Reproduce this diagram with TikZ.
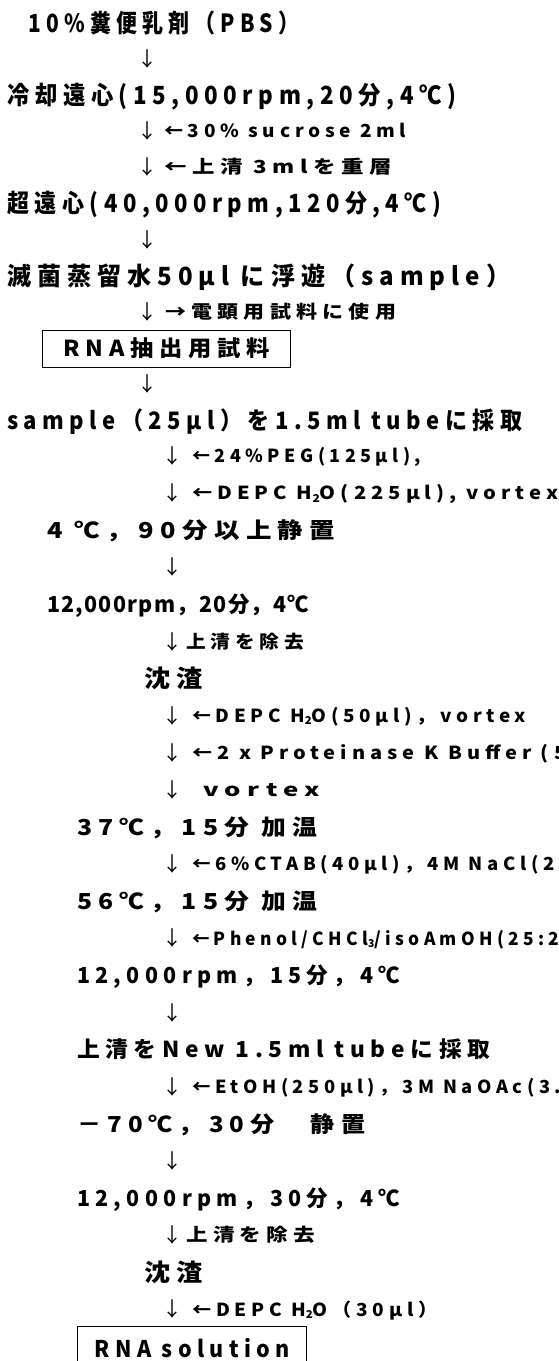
\documentclass[tikz,border=0pt]{standalone}
\usepackage{fontspec}
\setmainfont{Noto Sans CJK JP}[LetterSpace=25]
\usepackage{graphicx}
\newsavebox\fitbox
\newdimen\fitw
\newcommand\fitto[2]{\sbox\fitbox{#2}\fitw=\wd\fitbox\pgfmathsetmacro\fitr{#1/\fitw}\scalebox{\fitr}[1]{\usebox\fitbox}}
\newcommand\subd[1]{\raisebox{-0.25ex}{\scalebox{0.6}{#1}}}
\tikzset{
  ln/.style={inner sep=0pt, anchor=base west},
  dn/.style={inner sep=0pt, anchor=center, font=\fontsize{20}{20}\selectfont},
  boxed/.style={draw, line width=1.3pt, inner sep=0pt, anchor=north west}
}
\newcommand\Ln[6]{\node[ln, font=\bfseries\fontsize{#4}{#4}\selectfont] (#1) at ({#2},{#3+0.38*#4}) {\fitto{#5}{#6}};}
\begin{document}
\begin{tikzpicture}[x=1pt,y=-1pt]
\useasboundingbox (0,0) rectangle (559,1361);
% upper part
\Ln{t1}{28}{23}{25}{271}{10\%糞便乳剤（PBS）}
\node[dn] (a2) at (147,59) {↓};
\Ln{t3}{7}{95}{25}{449}{冷却遠心(15,000rpm,20分,4℃)}
\node[dn] (a4) at (147,131) {↓};
\Ln{t4}{164}{131}{18}{242}{←30\% sucrose 2ml}
\node[dn] (a5) at (147,167) {↓};
\Ln{t5}{164}{167}{18}{228}{←上清 3mlを重層}
\Ln{t6}{7}{203}{25}{434}{超遠心(40,000rpm,120分,4℃)}
\node[dn] (a7) at (147,240) {↓};
\Ln{t8}{7}{276}{25}{503}{滅菌蒸留水50μl に浮遊（sample）}
\node[dn] (a9) at (147,312) {↓};
\Ln{t9}{165}{312}{18}{231}{→電顕用試料に使用}
\node[boxed, minimum width=248pt, minimum height=37pt] (b10) at (42,329.5)
  {\bfseries\fontsize{22}{22}\selectfont\fitto{207}{RNA抽出用試料}};
\node[dn] (a11) at (147,384) {↓};
\Ln{t12}{7}{420}{24}{515}{sample（25μl）を1.5ml tubeに採取}
% lower part
\node[dn] (a13) at (172,456) {↓};
\Ln{t13}{192}{456}{18}{229}{←24\%PEG(125μl),}
\node[dn] (a14) at (172,493.1) {↓};
\Ln{t14}{192}{493.1}{18}{366}{←DEPC H\subd{2}O(225μl), vortex}
\Ln{t15}{47}{530.2}{22}{288}{4 ℃，90分以上静置}
\node[dn] (a16) at (172,567.3) {↓};
\Ln{t17}{47}{604.4}{22}{262}{\addfontfeatures{LetterSpace=6}12,000rpm，20分，4℃}
\node[dn] (a18) at (172,641.5) {↓};
\Ln{t18}{186}{641.5}{18}{118}{上清を除去}
\Ln{t19}{144}{678.6}{24}{59}{沈渣}
\node[dn] (a20) at (172,715.7) {↓};
\Ln{t20}{192}{715.7}{18}{334}{←DEPC H\subd{2}O(50μl)，vortex}
\node[dn] (a21) at (172,752.8) {↓};
\Ln{t21}{192}{752.8}{18}{374}{←2 x Proteinase K Buffer (5}
\node[dn] (a22) at (172,789.9) {↓};
\Ln{t22}{203}{789.9}{18}{117}{vortex}
\Ln{t23}{77}{827}{22}{240}{37℃，15分 加温}
\node[dn] (a24) at (172,864.1) {↓};
\Ln{t24}{192}{864.1}{18}{378}{←6\%CTAB(40μl)，4M NaCl(25}
\Ln{t25}{77}{901.2}{22}{240}{56℃，15分 加温}
\node[dn] (a26) at (172,938.3) {↓};
\Ln{t26}{192}{938.3}{18}{367}{←Phenol/CHCl\subd{3}/isoAmOH(25:2}
\Ln{t27}{77}{975.4}{22}{323}{12,000rpm，15分，4℃}
\node[dn] (a28) at (172,1012.5) {↓};
\Ln{t29}{77}{1049.6}{22}{413}{上清をNew 1.5ml tubeに採取}
\node[dn] (a30) at (172,1086.7) {↓};
\Ln{t30}{192}{1086.7}{18}{369}{←EtOH(250μl)，3M NaOAc(3.}
\Ln{t31}{77}{1123.8}{22}{288}{－70℃，30分　静置}
\node[dn] (a32) at (172,1160.9) {↓};
\Ln{t33}{77}{1198}{22}{323}{12,000rpm，30分，4℃}
\node[dn] (a34) at (172,1235.1) {↓};
\Ln{t34}{186}{1235.1}{18}{129}{上清を除去}
\Ln{t35}{144}{1272.2}{24}{59}{沈渣}
\node[dn] (a36) at (172,1309.3) {↓};
\Ln{t36}{192}{1309.3}{18}{245}{←DEPC H\subd{2}O（30μl）}
\node[boxed, minimum width=229pt, minimum height=42pt] (b37) at (77,1326)
  {\bfseries\fontsize{23}{23}\selectfont\fitto{195}{RNA solution}};
\end{tikzpicture}
\end{document}
